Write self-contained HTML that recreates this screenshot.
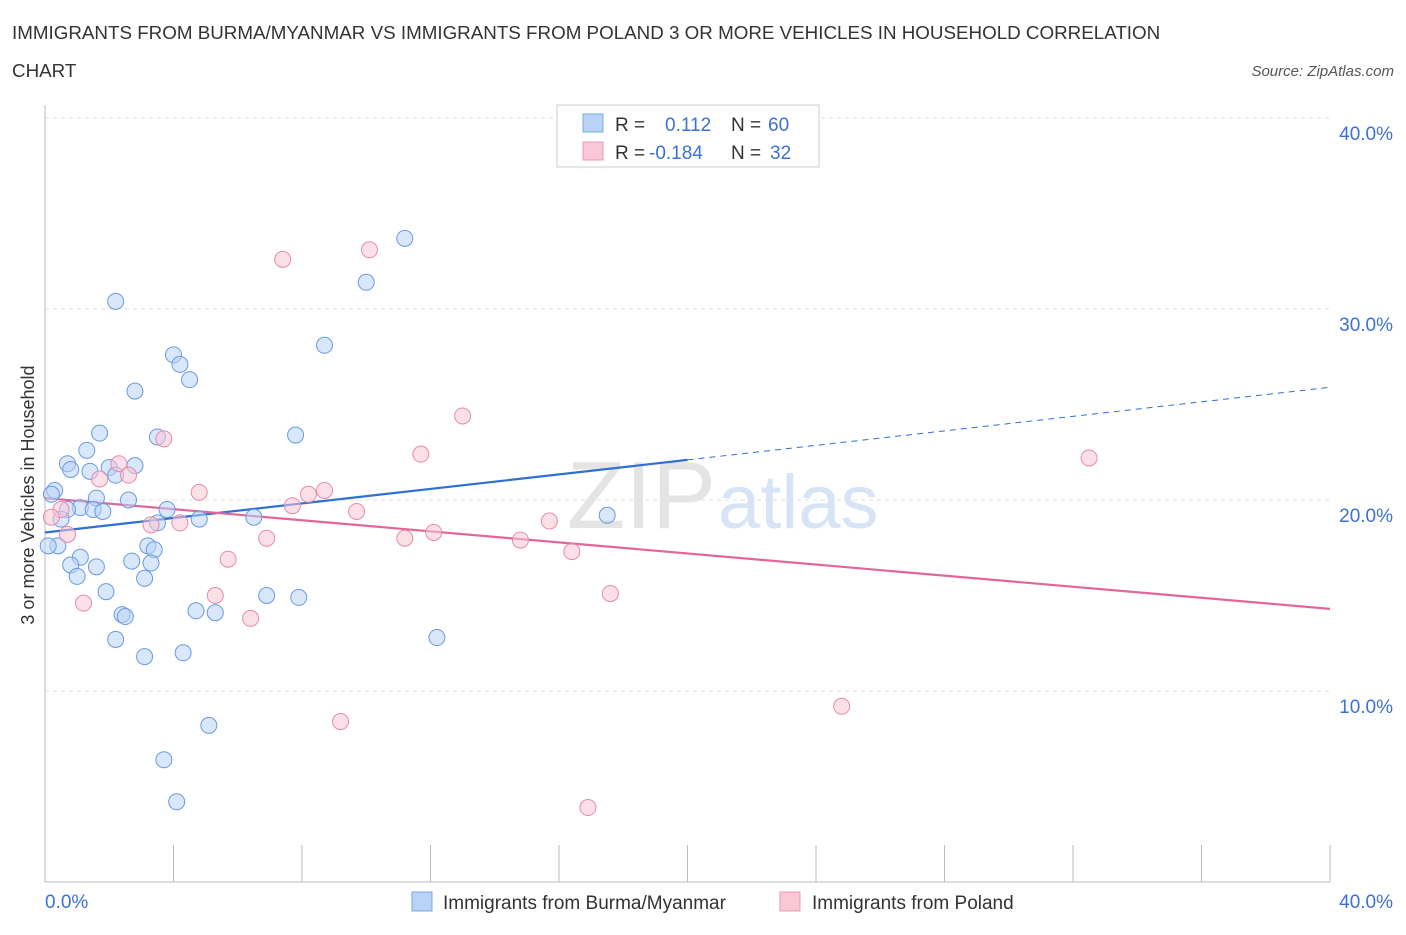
<!DOCTYPE html>
<html><head><meta charset="utf-8"><style>
body{margin:0;background:#fff;font-family:"Liberation Sans",sans-serif;}
svg text{font-family:"Liberation Sans",sans-serif;}
</style></head><body>
<svg id="chart" width="1406" height="930" xmlns="http://www.w3.org/2000/svg">
<text x="12" y="39" font-size="18.8" fill="#333">IMMIGRANTS FROM BURMA/MYANMAR VS IMMIGRANTS FROM POLAND 3 OR MORE VEHICLES IN HOUSEHOLD CORRELATION</text>
<text x="12" y="77" font-size="18.8" fill="#333">CHART</text>
<text x="1394" y="76" font-size="15" fill="#555" font-style="italic" text-anchor="end">Source: ZipAtlas.com</text>
<g id="grid"></g>
<g id="axes"></g>
<text x="716" y="528" font-size="96" fill="#e4e4e4" text-anchor="end" font-family="Liberation Serif">ZIP</text>
<text x="718" y="528" font-size="76" fill="#d6e4f5">atlas</text>
<g id="lines"></g>
<g id="points"></g>
<text transform="translate(34,495) rotate(-90)" font-size="18" fill="#333" text-anchor="middle">3 or more Vehicles in Household</text>
<g>
<rect x="557" y="105" width="262" height="62" fill="#fff" stroke="#ccc"/>
<rect x="583" y="114" width="20" height="18" fill="#b8d3f5" stroke="#7aa8e0"/>
<rect x="583" y="142" width="20" height="18" fill="#f9c7d6" stroke="#eb9ab3"/>
<text x="615" y="131" font-size="19" fill="#333">R =</text>
<text x="665" y="131" font-size="19" fill="#3b72d4">0.112</text>
<text x="731" y="131" font-size="19" fill="#333">N =</text>
<text x="768" y="131" font-size="19" fill="#3b72d4">60</text>
<text x="615" y="159" font-size="19" fill="#333">R =</text>
<text x="649" y="159" font-size="19" fill="#3b72d4">-0.184</text>
<text x="731" y="159" font-size="19" fill="#333">N =</text>
<text x="770" y="159" font-size="19" fill="#3b72d4">32</text>
</g>
<g>
<rect x="412" y="892" width="20" height="19" fill="#b8d3f5" stroke="#7aa8e0"/>
<text x="443" y="909" font-size="19" fill="#333">Immigrants from Burma/Myanmar</text>
<rect x="780" y="892" width="20" height="19" fill="#f9c7d6" stroke="#eb9ab3"/>
<text x="812" y="909" font-size="19" fill="#333">Immigrants from Poland</text>
</g>
</svg>
<script>
const yTicks=[10,20,30,40];
const xTickLabels=["0.0%","40.0%"];
const blueX=[11.2,10.0,2.2,8.7,4.0,4.2,4.5,2.8,1.7,3.5,7.8,1.3,0.7,0.8,2.8,2.0,1.4,2.2,0.3,0.2,1.6,2.6,1.1,0.7,1.5,1.8,3.8,4.8,6.5,17.5,0.5,3.5,0.4,0.1,3.2,3.4,1.1,0.8,1.6,2.7,3.3,1.0,3.1,1.9,6.9,7.9,4.7,5.3,2.4,2.5,12.2,2.2,4.3,3.1,5.1,3.7,4.1];
const blueY=[33.7,31.4,30.4,28.1,27.6,27.1,26.3,25.7,23.5,23.3,23.4,22.6,21.9,21.6,21.8,21.7,21.5,21.3,20.5,20.3,20.1,20.0,19.6,19.5,19.5,19.4,19.5,19.0,19.1,19.2,19.0,18.8,17.6,17.6,17.6,17.4,17.0,16.6,16.5,16.8,16.7,16.0,15.9,15.2,15.0,14.9,14.2,14.1,14.0,13.9,12.8,12.7,12.0,11.8,8.2,6.4,4.2];
const pinkX=[10.1,7.4,13.0,3.7,11.7,32.5,2.3,2.6,1.7,4.8,8.7,8.2,7.7,9.7,15.7,0.5,0.2,0.7,3.3,4.2,12.1,11.2,6.9,14.8,16.4,5.7,5.3,17.6,1.2,6.4,24.8,9.2,16.9];
const pinkY=[33.1,32.6,24.4,23.2,22.4,22.2,21.9,21.3,21.1,20.4,20.5,20.3,19.7,19.4,18.9,19.5,19.1,18.2,18.7,18.8,18.3,18.0,18.0,17.9,17.3,16.9,15.0,15.1,14.6,13.8,9.2,8.4,3.9];
const blueTrend=[18.3,25.9];
const pinkTrend=[20.1,14.3];
const X=v=>45+v*32.125, Y=v=>882-v*19.1;
const NS="http://www.w3.org/2000/svg";
function mk(t,a,p){const e=document.createElementNS(NS,t);for(const k in a)e.setAttribute(k,a[k]);p.appendChild(e);return e;}
const grid=document.getElementById('grid'),axes=document.getElementById('axes');
yTicks.forEach(t=>{
  const l=mk('line',{x1:45,x2:1330,y1:Y(t),y2:Y(t),stroke:'#ddd','stroke-dasharray':'4,4'},grid);
  
  
  const tx=mk('text',{x:1393,y:Y(t)+22,'font-size':19,fill:'#3b72d4','text-anchor':'end'},grid);
  tx.textContent=t.toFixed(1)+'%';
  
  
});
const ya=mk('line',{x1:45,x2:45,y1:105,y2:882,stroke:'#bbb'},axes);


const xa=mk('line',{x1:45,x2:1330,y1:882,y2:882,stroke:'#bbb'},axes);


for(let i=0;i<=10;i++){const xx=X(i*4);
  const t=mk('line',{x1:xx,x2:xx,y1:845,y2:882,stroke:'#bbb'},axes);
  
  }
[[0,'start',45],[1,'end',1393]].forEach(([i,a,x])=>{
  const t=mk('text',{x:x,y:908,'font-size':19,fill:'#3b72d4','text-anchor':a},axes);
  t.textContent=xTickLabels[i];
  
  });
const pts=document.getElementById('points');
function dots(xs,ys,fill,stroke,name){xs.forEach((x,i)=>{
  const c=mk('circle',{cx:X(x),cy:Y(ys[i]),r:8,fill:fill,stroke:stroke,'stroke-width':1,'fill-opacity':0.55},pts);
  
  });}
dots(blueX,blueY,'#b8d3f5','#6a9ae0','point-burma');
dots(pinkX,pinkY,'#f9c7d6','#e88aa8','point-poland');
const ln=document.getElementById('lines');
const bmid=blueTrend[0]+(blueTrend[1]-blueTrend[0])*0.5;
const b1=mk('line',{x1:X(0),y1:Y(blueTrend[0]),x2:X(20),y2:Y(bmid),stroke:'#2f6fd6','stroke-width':2.2},ln);


const b2=mk('line',{x1:X(20),y1:Y(bmid),x2:X(40),y2:Y(blueTrend[1]),stroke:'#2f6fd6','stroke-width':1,'stroke-dasharray':'6,5'},ln);


const p1=mk('line',{x1:X(0),y1:Y(pinkTrend[0]),x2:X(40),y2:Y(pinkTrend[1]),stroke:'#e2669a','stroke-width':2.2},ln);


</script>
</body></html>
